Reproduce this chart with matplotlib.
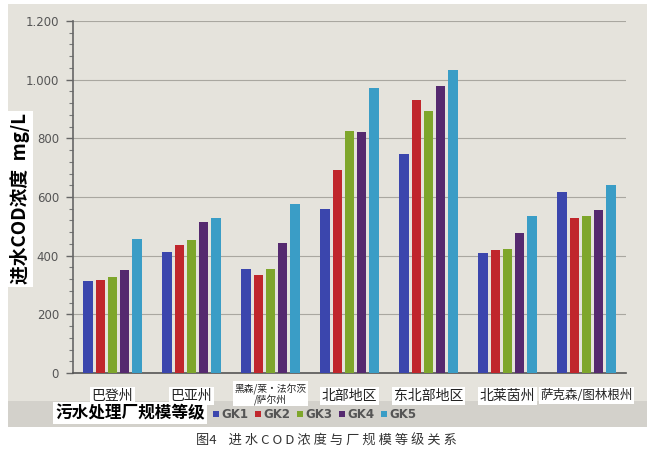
import matplotlib
matplotlib.use("Agg")
import matplotlib.pyplot as plt
import numpy as np
from matplotlib.patches import Rectangle

plt.rcParams['font.family'] = ['Noto Sans CJK SC', 'DejaVu Sans']

categories = ["巴登州", "巴亚州", "黑森/莱·法尔茨\n/萨尔州", "北部地区", "东北部地区", "北莱茵州", "萨克森/图林根州"]
series_names = ["GK1", "GK2", "GK3", "GK4", "GK5"]
gk1 = [313, 414, 356, 558, 745, 410, 617]
gk2 = [316, 435, 335, 692, 930, 420, 527]
gk3 = [327, 452, 355, 824, 894, 423, 535]
gk4 = [350, 516, 442, 822, 977, 477, 555]
gk5 = [458, 528, 575, 970, 1032, 536, 641]
series = [gk1, gk2, gk3, gk4, gk5]
colors = ["#3b46ad", "#c0262c", "#7ea62b", "#55296f", "#3a9dc6"]
yticks = [0, 200, 400, 600, 800, 1000, 1200]
ytick_labels = ["0", "200", "400", "600", "800", "1.000", "1.200"]

W, H = 649, 463
fig = plt.figure(figsize=(W / 100, H / 100), dpi=100)
fig.patch.set_facecolor("white")

# photo background
fig.add_artist(Rectangle((8 / W, 1 - 427 / H), 639 / W, 423 / H, transform=fig.transFigure,
                         facecolor="#e5e3dc", edgecolor="none", zorder=0))
fig.add_artist(Rectangle((8 / W, 1 - 427 / H), 639 / W, 26 / H, transform=fig.transFigure,
                         facecolor="#d3d1cb", edgecolor="none", zorder=0))

ax = fig.add_axes([73 / W, 1 - 373 / H, (626 - 73) / W, (373 - 21) / H])
ax.set_facecolor("none")

x = np.arange(len(categories))
step = 0.155
bw = 0.118
for i, (vals, c) in enumerate(zip(series, colors)):
    ax.bar(x + (i - 2) * step, vals, width=bw, color=c, zorder=3)

ax.set_xlim(-0.5, len(categories) - 0.5)
ax.set_ylim(0, 1200)
ax.set_yticks(yticks)
ax.set_yticklabels(ytick_labels, color="#555555", fontsize=8.5, family="DejaVu Sans")
ax.set_yticks(np.arange(0, 1201, 40), minor=True)
ax.tick_params(axis="y", which="major", length=5, color="#666666", width=1, pad=5)
ax.tick_params(axis="y", which="minor", length=3, color="#777777", width=0.8)
ax.set_xticks([])
ax.grid(axis="y", color="#a9a7a0", linewidth=0.8, zorder=1)
for s in ["top", "right"]:
    ax.spines[s].set_visible(False)
ax.spines["left"].set_color("#666666")
ax.spines["bottom"].set_color("#555555")
ax.spines["left"].set_linewidth(1.2)
ax.spines["bottom"].set_linewidth(1.2)

# category labels in white boxes
label_sizes = [10, 10, 7, 10, 10, 10, 9]
for xi, cat, fs in zip(x, categories, label_sizes):
    two = "\n" in cat
    ax.text(xi, -0.045 if not two else -0.028, cat, transform=ax.get_xaxis_transform(),
            ha="center", va="top", fontsize=fs,
            color="#222222", linespacing=1.0,
            bbox=dict(facecolor="white", edgecolor="none", pad=1.2))

# y label
fig.text(20 / W, 1 - 199 / H, "进水COD浓度  mg/L", rotation=90, ha="center", va="center",
         fontsize=13.5, fontweight="bold", color="black",
         bbox=dict(facecolor="white", edgecolor="none", pad=2))

# legend title
fig.text(130 / W, 1 - 413 / H, "污水处理厂规模等级", ha="center", va="center",
         fontsize=12, fontweight="bold", color="black",
         bbox=dict(facecolor="white", edgecolor="none", pad=1.5))

# legend entries
lx = 213
for name, c in zip(series_names, colors):
    fig.add_artist(Rectangle((lx / W, 1 - 417 / H), 6 / W, 6 / H, transform=fig.transFigure,
                             facecolor=c, edgecolor="none"))
    fig.text((lx + 8) / W, 1 - 414 / H, name, ha="left", va="center", fontsize=8.5,
             fontweight="bold", color="#555555", family="DejaVu Sans")
    lx += 42

# caption
fig.text(326 / W, 1 - 441 / H, "图4    进 水 C O D 浓 度 与 厂 规 模 等 级 关 系", ha="center", va="center",
         fontsize=9.5, color="#333333")

fig.savefig("out.png", dpi=100)
